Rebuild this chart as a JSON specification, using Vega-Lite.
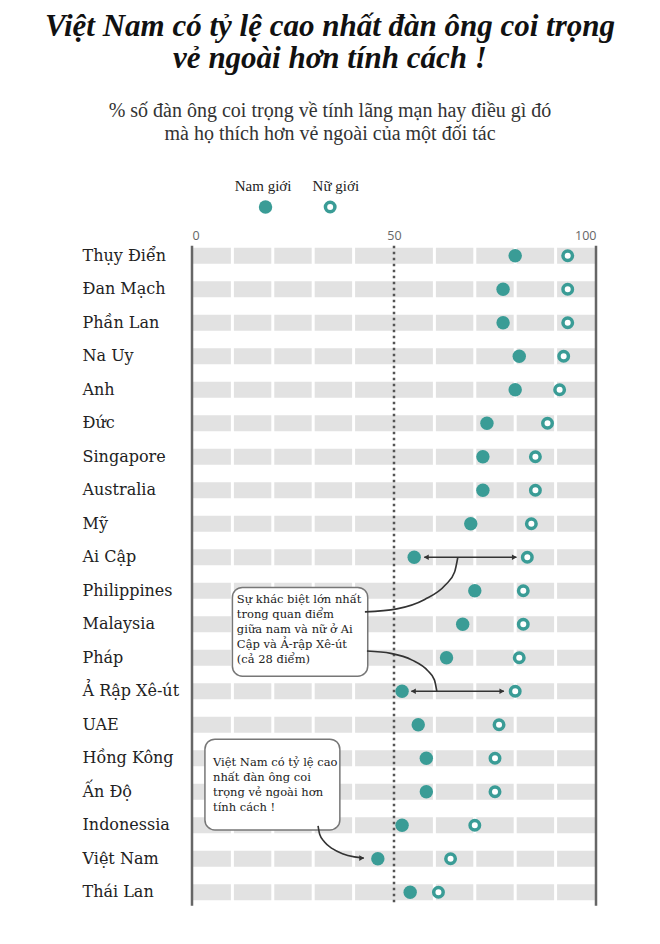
{
  "$schema": "https://vega.github.io/schema/vega-lite/v6.json",
  "width": 404,
  "height": 670,
  "autosize": {"type": "none"},
  "padding": {"left": 192, "top": 239, "right": 64, "bottom": 35},
  "background": "white",
  "config": {"view": {"stroke": null}},
  "title": {
    "text": ["Việt Nam có tỷ lệ cao nhất đàn ông coi trọng", "vẻ ngoài hơn tính cách !"],
    "subtitle": ["% số đàn ông coi trọng về tính lãng mạn hay điều gì đó", "mà họ thích hơn vẻ ngoài của một đối tác"],
    "anchor": "middle",
    "frame": "group",
    "dx": -64,
    "font": "Liberation Serif",
    "fontStyle": "italic",
    "fontWeight": "bold",
    "fontSize": 31,
    "lineHeight": 32,
    "color": "#111111",
    "subtitleFont": "Liberation Serif",
    "subtitleFontSize": 20,
    "subtitleLineHeight": 23,
    "subtitleColor": "#333333",
    "subtitlePadding": 26,
    "offset": 34
  },
  "datasets": {
    "rates": [
      {"country": "Thụy Điển", "men": 80, "women": 93},
      {"country": "Đan Mạch", "men": 77, "women": 93},
      {"country": "Phần Lan", "men": 77, "women": 93},
      {"country": "Na Uy", "men": 81, "women": 92},
      {"country": "Anh", "men": 80, "women": 91},
      {"country": "Đức", "men": 73, "women": 88},
      {"country": "Singapore", "men": 72, "women": 85},
      {"country": "Australia", "men": 72, "women": 85},
      {"country": "Mỹ", "men": 69, "women": 84},
      {"country": "Ai Cập", "men": 55, "women": 83},
      {"country": "Philippines", "men": 70, "women": 82},
      {"country": "Malaysia", "men": 67, "women": 82},
      {"country": "Pháp", "men": 63, "women": 81},
      {"country": "Ả Rập Xê-út", "men": 52, "women": 80},
      {"country": "UAE", "men": 56, "women": 76},
      {"country": "Hồng Kông", "men": 58, "women": 75},
      {"country": "Ấn Độ", "men": 58, "women": 75},
      {"country": "Indonessia", "men": 52, "women": 70},
      {"country": "Việt Nam", "men": 46, "women": 64},
      {"country": "Thái Lan", "men": 54, "women": 61}
    ],
    "gaps": [{"v": 10}, {"v": 20}, {"v": 30}, {"v": 40}, {"v": 60}, {"v": 70}, {"v": 80}, {"v": 90}],
    "frame": [{"v": 0}, {"v": 100}],
    "curves": [
      {"id": "a", "x": 42.8, "y": 10.63},
      {"id": "a", "x": 50.7, "y": 10.54},
      {"id": "a", "x": 57.6, "y": 10.26},
      {"id": "a", "x": 62.7, "y": 9.83},
      {"id": "a", "x": 65.0, "y": 9.44},
      {"id": "a", "x": 65.8, "y": 9.0},
      {"id": "b", "x": 43.3, "y": 11.8},
      {"id": "b", "x": 49.2, "y": 11.87},
      {"id": "b", "x": 54.5, "y": 12.07},
      {"id": "b", "x": 58.3, "y": 12.38},
      {"id": "b", "x": 60.0, "y": 12.66},
      {"id": "b", "x": 60.6, "y": 13.0},
      {"id": "c", "x": 31.2, "y": 17.02},
      {"id": "c", "x": 31.6, "y": 17.27},
      {"id": "c", "x": 32.8, "y": 17.5},
      {"id": "c", "x": 34.75, "y": 17.7},
      {"id": "c", "x": 37.25, "y": 17.85},
      {"id": "c", "x": 40.2, "y": 17.945},
      {"id": "c", "x": 42.5, "y": 17.98},
      {"id": "d", "x": 57.5, "y": 9},
      {"id": "d", "x": 80.3, "y": 9},
      {"id": "e", "x": 54.3, "y": 13},
      {"id": "e", "x": 77.2, "y": 13}
    ],
    "heads": [
      {"x": 58.0, "y": 9, "dir": "triangle-left"},
      {"x": 79.8, "y": 9, "dir": "triangle-right"},
      {"x": 54.8, "y": 13, "dir": "triangle-left"},
      {"x": 76.7, "y": 13, "dir": "triangle-right"},
      {"x": 42.0, "y": 17.98, "dir": "triangle-right"}
    ]
  },
  "resolve": {"scale": {"y": "independent"}, "axis": {"y": "independent"}},
  "layer": [
    {
      "data": {"name": "rates"},
      "layer": [
        {
          "mark": {"type": "bar", "color": "#e2e2e2", "height": {"band": 0.48}},
          "encoding": {
            "y": {
              "field": "country", "type": "nominal", "sort": null,
              "scale": {"paddingInner": 0, "paddingOuter": 0},
              "axis": {"title": null, "domain": false, "ticks": false, "labelAlign": "left", "labelPadding": 110, "labelFont": "DejaVu Serif", "labelFontSize": 16, "labelColor": "#222222"}
            },
            "x": {
              "datum": 0, "type": "quantitative",
              "scale": {"domain": [0, 100], "nice": false, "zero": false},
              "axis": {"orient": "top", "values": [0, 50, 100], "title": null, "domain": false, "ticks": false, "grid": false, "labelFont": "Open Sans", "labelFontSize": 12.5, "labelColor": "#666666", "labelPadding": -3}
            },
            "x2": {"datum": 100}
          }
        },
        {
          "data": {"name": "gaps"},
          "mark": {"type": "rule", "color": "white", "strokeWidth": 3},
          "encoding": {"x": {"field": "v", "type": "quantitative"}}
        }
      ]
    },
    {
      "layer": [
        {
          "data": {"name": "frame"},
          "mark": {"type": "rule", "color": "#666666", "strokeWidth": 2.5},
          "encoding": {
            "x": {"field": "v", "type": "quantitative"},
            "y": {"datum": -0.3, "type": "quantitative", "scale": {"domain": [-0.5, 19.5], "reverse": true, "nice": false, "zero": false}, "axis": null},
            "y2": {"datum": 19.4}
          }
        },
        {
          "data": {"values": [{}]},
          "mark": {"type": "rule", "color": "#555555", "strokeWidth": 2.5, "strokeDash": [2.5, 3.5]},
          "encoding": {
            "x": {"datum": 50, "type": "quantitative"},
            "y": {"datum": -0.3, "type": "quantitative"},
            "y2": {"datum": 19.4}
          }
        },
        {
          "data": {"values": [{}]},
          "mark": {"type": "rect", "fill": "white", "stroke": "#777777", "strokeWidth": 1.5, "cornerRadius": 10},
          "encoding": {
            "x": {"datum": 10, "type": "quantitative"}, "x2": {"datum": 43.5},
            "y": {"datum": 9.9, "type": "quantitative"}, "y2": {"datum": 12.55}
          }
        },
        {
          "data": {"values": [{}]},
          "mark": {"type": "rect", "fill": "white", "stroke": "#777777", "strokeWidth": 1.5, "cornerRadius": 10},
          "encoding": {
            "x": {"datum": 3.2, "type": "quantitative"}, "x2": {"datum": 36.6},
            "y": {"datum": 14.43, "type": "quantitative"}, "y2": {"datum": 17.14}
          }
        },
        {
          "data": {"values": [{}]},
          "mark": {"type": "text", "text": ["Sự khác biệt lớn nhất", "trong quan điểm", "giữa nam và nữ ở Ai", "Cập và Ả-rập Xê-út", "(cả 28 điểm)"], "align": "left", "baseline": "top", "lineHeight": 15, "font": "DejaVu Serif", "fontSize": 11.5, "color": "#222222"},
          "encoding": {"x": {"datum": 11.1, "type": "quantitative"}, "y": {"datum": 10.1, "type": "quantitative"}}
        },
        {
          "data": {"values": [{}]},
          "mark": {"type": "text", "text": ["Việt Nam có tỷ lệ cao", "nhất đàn ông coi", "trọng vẻ ngoài hơn", "tính cách !"], "align": "left", "baseline": "top", "lineHeight": 15, "font": "DejaVu Serif", "fontSize": 11.5, "color": "#222222"},
          "encoding": {"x": {"datum": 5.2, "type": "quantitative"}, "y": {"datum": 14.95, "type": "quantitative"}}
        },
        {
          "data": {"name": "curves"},
          "mark": {"type": "line", "color": "#333333", "strokeWidth": 1.6, "interpolate": "monotone"},
          "encoding": {
            "x": {"field": "x", "type": "quantitative"},
            "y": {"field": "y", "type": "quantitative"},
            "detail": {"field": "id"}
          }
        },
        {
          "data": {"name": "heads"},
          "mark": {"type": "point", "filled": true, "color": "#333333", "opacity": 1, "size": 32},
          "encoding": {
            "x": {"field": "x", "type": "quantitative"},
            "y": {"field": "y", "type": "quantitative"},
            "shape": {"field": "dir", "type": "nominal", "scale": null}
          }
        },
        {
          "data": {"values": [{}]},
          "mark": {"type": "text", "text": "Nam giới", "align": "center", "baseline": "middle", "font": "Liberation Serif", "fontSize": 15, "color": "#222222"},
          "encoding": {"x": {"datum": 17.6, "type": "quantitative"}, "y": {"datum": -2.08, "type": "quantitative"}}
        },
        {
          "data": {"values": [{}]},
          "mark": {"type": "text", "text": "Nữ giới", "align": "center", "baseline": "middle", "font": "Liberation Serif", "fontSize": 15, "color": "#222222"},
          "encoding": {"x": {"datum": 35.6, "type": "quantitative"}, "y": {"datum": -2.08, "type": "quantitative"}}
        },
        {
          "data": {"values": [{}]},
          "mark": {"type": "point", "shape": "circle", "filled": true, "color": "#3a9c96", "opacity": 1, "size": 180},
          "encoding": {"x": {"datum": 18.2, "type": "quantitative"}, "y": {"datum": -1.455, "type": "quantitative"}}
        },
        {
          "data": {"values": [{}]},
          "mark": {"type": "point", "shape": "circle", "fill": "white", "stroke": "#3a9c96", "strokeWidth": 3.5, "opacity": 1, "size": 90},
          "encoding": {"x": {"datum": 34.2, "type": "quantitative"}, "y": {"datum": -1.455, "type": "quantitative"}}
        }
      ]
    },
    {
      "data": {"name": "rates"},
      "layer": [
        {
          "mark": {"type": "point", "shape": "circle", "filled": true, "color": "#3a9c96", "opacity": 1, "size": 180},
          "encoding": {
            "y": {"field": "country", "type": "nominal", "sort": null, "scale": {"paddingInner": 0, "paddingOuter": 0}, "axis": null},
            "x": {"field": "men", "type": "quantitative"}
          }
        },
        {
          "mark": {"type": "point", "shape": "circle", "fill": "white", "stroke": "#3a9c96", "strokeWidth": 3.5, "opacity": 1, "size": 90},
          "encoding": {
            "y": {"field": "country", "type": "nominal", "sort": null},
            "x": {"field": "women", "type": "quantitative"}
          }
        }
      ]
    }
  ]
}
